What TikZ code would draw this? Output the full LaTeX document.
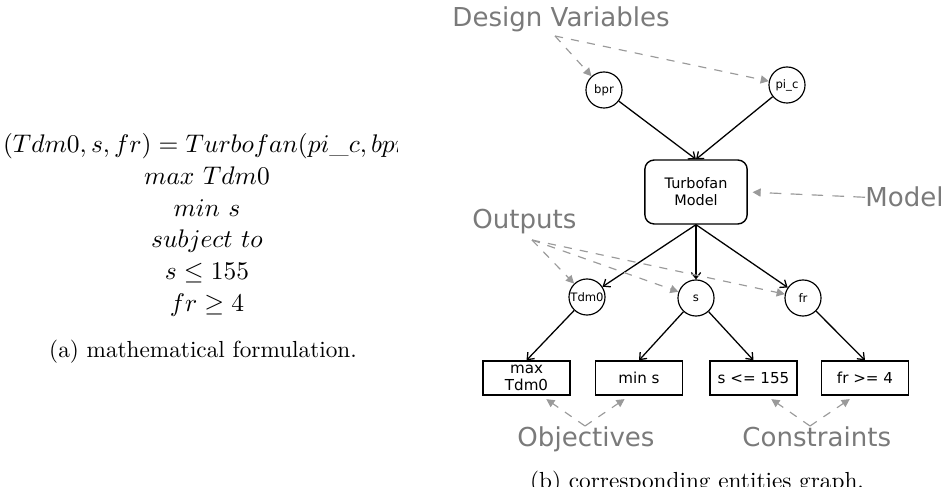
\documentclass[tikz,border=0pt]{standalone}
\usepackage{fontspec}
\newfontfamily\graphfont{DejaVu Sans}
\usepackage{tikz}
\usetikzlibrary{positioning,arrows.meta}

\definecolor{tagcol}{HTML}{7A7A7A}
\definecolor{hintcol}{HTML}{9A9A9A}

\tikzset{
	var/.style={draw, circle, line width=0.5pt, minimum size=15.5pt, inner sep=0pt, font=\graphfont\fontsize{5}{6}\selectfont},
	model/.style={draw, rounded corners=4pt, line width=0.6pt, minimum width=44pt, minimum height=27.5pt, align=center, font=\graphfont\fontsize{6.2}{7.4}\selectfont},
	goal/.style={draw, line width=0.6pt, minimum width=37.4pt, minimum height=14.6pt, inner sep=0pt, align=center, font=\graphfont\fontsize{6.5}{7}\selectfont},
	tag/.style={text=tagcol, inner sep=0pt, anchor=base west, font=\graphfont\fontsize{11.2}{13}\selectfont},
	eqline/.style={inner sep=0pt, anchor=base, font=\fontsize{11.3}{13}\selectfont},
	caption/.style={inner sep=0pt, anchor=base},
	link/.style={-{Straight Barb[length=2.5pt,width=4pt]}, line width=0.55pt},
	hint/.style={-{Triangle[length=3.5pt,width=3.5pt]}, draw=hintcol, line width=0.5pt, dash pattern=on 3.5pt off 3.5pt}
}

\begin{document}
\begin{tikzpicture}[x=0.43pt, y=-0.43pt]
\useasboundingbox (0,0) rectangle (941,487);
\clip (0,0) rectangle (941,487);

\begin{scope}
\clip (0,0) rectangle (397,487);
	\node[eqline] (eq) at (210,153) {$(Tdm0, s, fr) = Turbofan(pi\_c, bpr)$};
\end{scope}
	\node[eqline] (obj1) at (207,185) {$max\ Tdm0$};
	\node[eqline] (obj2) at (207,217) {$min\ s$};
	\node[eqline] (st) at (207,248) {$subject\ to$};
	\node[eqline] (con1) at (207,280) {$s \leq 155$};
	\node[eqline] (con2) at (207,312) {$fr \geq 4$};
	\node[caption] (capa) at (203,358) {(a) mathematical formulation.};

	\node[var] (bpr) at (604,90) {bpr};
	\node[var] (pic) at (787,85) {pi\_c};
	\node[model] (turbofan) at (696,192) {Turbofan\\Model};
	\node[var] (tdm) at (587,297) {Tdm0};
	\node[var] (s) at (696,298) {s};
	\node[var] (fr) at (803,298) {fr};

	\node[goal] (maxT) at (526.5,378) {max\\Tdm0};
	\node[goal] (mins) at (639,378) {min s};
	\node[goal] (sle) at (753.5,378) {s <= 155};
	\node[goal] (fge) at (865,378) {fr >= 4};

	\node[tag] (dvlabel) at (452,27) {Design Variables};
	\node[tag] (modlabel) at (865,207) {Model};
	\node[tag] (outlabel) at (472,229) {Outputs};
	\node[tag] (objlabel) at (517,447) {Objectives};
	\node[tag] (conlabel) at (742,447) {Constraints};
	\node[caption] (capb) at (697,489) {(b) corresponding entities graph.};

	\coordinate (dv) at (555,36);
	\coordinate (out) at (532,240);
	\coordinate (ob) at (585,426);
	\coordinate (co) at (810,426);

	\draw[link] (bpr) -- (turbofan.north);
	\draw[link] (pic) -- (turbofan.north);
	\draw[link] (turbofan.south) -- (tdm);
	\draw[link] (turbofan.south) -- (s);
	\draw[link] (turbofan.south) -- (fr);
	\draw[link] (tdm) -- (maxT.north);
	\draw[link] (s) -- (mins.north);
	\draw[link] (s) -- (sle.north);
	\draw[link] (fr) -- (fge.north);

	\draw[hint] (dv) -- (bpr);
	\draw[hint] (dv) -- (pic);
	\draw[hint, dash pattern=on 5pt off 4pt, shorten >=2pt] (modlabel.west) -- (turbofan.east);
	\draw[hint] (out) -- (tdm);
	\draw[hint] (out) -- (s);
	\draw[hint] (out) -- (fr);
	\draw[hint, shorten >=2.6pt] (ob) -- (maxT.-50);
	\draw[hint, shorten >=2.6pt] (ob) -- (mins.-118);
	\draw[hint, shorten >=2.6pt] (co) -- (sle.-54);
	\draw[hint, shorten >=2.6pt] (co) -- (fge.-120);
\end{tikzpicture}
\end{document}
